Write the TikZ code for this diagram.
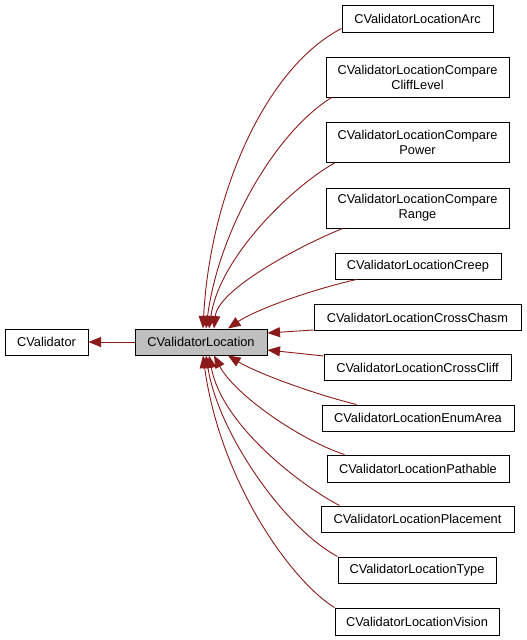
\documentclass[tikz,border=0pt]{standalone}
\usepackage{fontspec}
\setmainfont{Liberation Sans}
\usetikzlibrary{arrows.meta,calc}
\definecolor{edgered}{HTML}{8B1A1A}
\definecolor{boxgray}{HTML}{BFBFBF}
\begin{document}
\begin{tikzpicture}[x=1pt,y=-1pt,
  cls/.style={draw=black, line width=1pt, fill=white, inner sep=0pt, align=center,
    font=\fontsize{12.8}{15}\selectfont},
  inh/.style={draw=edgered, line width=0.9pt, {Triangle[length=12.5pt,width=10pt,fill=edgered]}-},
]
\useasboundingbox (0,0) rectangle (527,640);

\node[cls, minimum width=83pt, minimum height=26pt] (V) at (46.5,342) {CValidator};
\node[cls, fill=boxgray, minimum width=132pt, minimum height=26pt] (L) at (201,342) {CValidatorLocation};

\node[cls, minimum width=151pt, minimum height=27pt] (arc) at (417.5,18.5) {CValidatorLocationArc};
\node[cls, minimum width=183pt, minimum height=40pt] (cliff) at (417.5,77) {CValidatorLocationCompare\\CliffLevel};
\node[cls, minimum width=183pt, minimum height=40pt] (power) at (417.5,142.5) {CValidatorLocationCompare\\Power};
\node[cls, minimum width=183pt, minimum height=40pt] (range) at (417.5,208) {CValidatorLocationCompare\\Range};
\node[cls, minimum width=166pt, minimum height=26pt] (creep) at (418,266) {CValidatorLocationCreep};
\node[cls, minimum width=207pt, minimum height=26pt] (chasm) at (417.5,317.5) {CValidatorLocationCrossChasm};
\node[cls, minimum width=187pt, minimum height=26pt] (ccliff) at (417.5,367.5) {CValidatorLocationCrossCliff};
\node[cls, minimum width=192pt, minimum height=26pt] (enum) at (418,418) {CValidatorLocationEnumArea};
\node[cls, minimum width=182pt, minimum height=27pt] (path) at (418,468.5) {CValidatorLocationPathable};
\node[cls, minimum width=193pt, minimum height=26pt] (place) at (417.5,519) {CValidatorLocationPlacement};
\node[cls, minimum width=158pt, minimum height=26pt] (type) at (417,570) {CValidatorLocationType};
\node[cls, minimum width=164pt, minimum height=27pt] (vision) at (417,621.5) {CValidatorLocationVision};

% base class
\draw[inh] (V.east) -- (L.west);

% top group
\draw[inh] ($(L.north)+(2,0)$) .. controls (210,195) and (265,68) .. ($(arc.south west)+(0,-4)$);
\draw[inh] ($(L.north)+(5,0)$) .. controls (218,235) and (272,135) .. ($(cliff.south west)+(6,0)$);
\draw[inh] ($(L.north)+(8,0)$) .. controls (220,255) and (295,185) .. ($(power.south west)+(9,0)$);
\draw[inh] ($(L.north)+(13,0)$) .. controls (218,290) and (295,248) .. ($(range.south west)+(17,0)$);
\draw[inh] ($(L.north)+(27,0)$) .. controls (255,310) and (310,290) .. ($(creep.south west)+(22,0)$);

% right side
\draw[inh] ($(L.east)+(0,-9)$) -- ($(chasm.south west)+(0,-1)$);
\draw[inh] ($(L.east)+(0,8)$) -- ($(ccliff.north west)+(0,2)$);

% bottom group
\draw[inh] ($(L.south)+(27,0)$) .. controls (255,372) and (310,393) .. ($(enum.north west)+(35,0)$);
\draw[inh] ($(L.south)+(13,0)$) .. controls (235,395) and (300,440) .. ($(path.north west)+(18,0)$);
\draw[inh] ($(L.south)+(8,0)$) .. controls (222,425) and (300,485) .. ($(place.north west)+(19,0)$);
\draw[inh] ($(L.south)+(5,0)$) .. controls (218,432) and (283,527) .. (type.north west);
\draw[inh] ($(L.south)+(2,0)$) .. controls (220,480) and (290,580) .. (vision.north west);
\end{tikzpicture}
\end{document}
